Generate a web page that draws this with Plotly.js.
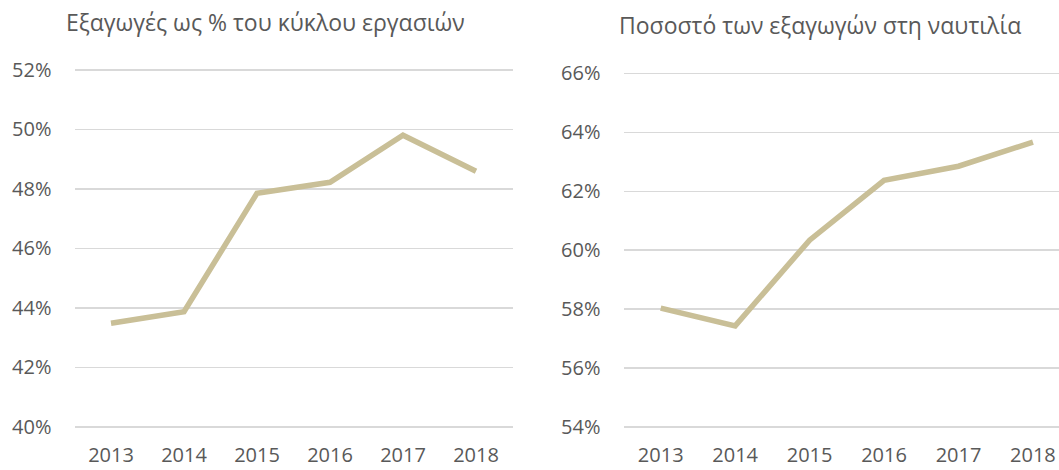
<!DOCTYPE html>
<html>
<head>
<meta charset="utf-8">
<script src="https://cdn.plot.ly/plotly-3.0.1.min.js"></script>
<style>html,body{margin:0;padding:0;background:#fff;}#chart{width:1059px;height:470px;}</style>
</head>
<body>
<div id="chart"></div>
<script>
const years = ["2013", "2014", "2015", "2016", "2017", "2018"];
const exportsShareOfTurnover = [43.48, 43.87, 47.85, 48.22, 49.80, 48.59];
const shippingShareOfExports = [58.03, 57.43, 60.34, 62.37, 62.85, 63.67];
const leftTitle = "Εξαγωγές ως % του κύκλου εργασιών";
const rightTitle = "Ποσοστό των εξαγωγών στη ναυτιλία";
const leftTicks = [40, 42, 44, 46, 48, 50, 52];
const rightTicks = [54, 56, 58, 60, 62, 64, 66];
const leftTickText = ["40%", "42%", "44%", "46%", "48%", "50%", "52%"];
const rightTickText = ["54%", "56%", "58%", "60%", "62%", "64%", "66%"];

const W = 1059, H = 470;
const lineColor = "#C9BF97";
const textColor = "#595959";
const gridColor = "#D9D9D9";
const fontFamily = "'Open Sans', 'Noto Sans', sans-serif";

const traces = [
  {x: years, y: exportsShareOfTurnover, type: "scatter", mode: "lines",
   line: {color: lineColor, width: 5.5}, xaxis: "x", yaxis: "y", hoverinfo: "skip"},
  {x: years, y: shippingShareOfExports, type: "scatter", mode: "lines",
   line: {color: lineColor, width: 5.5}, xaxis: "x2", yaxis: "y2", hoverinfo: "skip"}
];

const xCommon = {
  type: "category", showgrid: false, zeroline: false, showline: false,
  ticks: "", tickfont: {family: fontFamily, size: 20, color: textColor},
  ticklabelstandoff: 13, fixedrange: true
};
const yCommon = {
  showgrid: true, gridcolor: gridColor, gridwidth: 1.5, zeroline: false, showline: false,
  ticks: "", tickfont: {family: fontFamily, size: 20, color: textColor},
  ticklabelstandoff: 22, fixedrange: true, tickmode: "array"
};

const layout = {
  width: W, height: H,
  margin: {l: 0, r: 0, t: 0, b: 0},
  paper_bgcolor: "#fff", plot_bgcolor: "#fff",
  showlegend: false,
  xaxis: Object.assign({}, xCommon, {domain: [74.5 / W, 512.5 / W], range: [-0.5, 5.5], anchor: "y"}),
  yaxis: Object.assign({}, yCommon, {domain: [(H - 428.3) / H, (H - 68.3) / H], range: [39.95, 52.05],
    tickvals: leftTicks, ticktext: leftTickText, anchor: "x"}),
  xaxis2: Object.assign({}, xCommon, {domain: [623.5 / W, 1], range: [-0.5, 5.35], anchor: "y2"}),
  yaxis2: Object.assign({}, yCommon, {domain: [(H - 428.3) / H, (H - 72) / H], range: [53.95, 66.05],
    tickvals: rightTicks, ticktext: rightTickText, anchor: "x2"}),
  annotations: [
    {text: leftTitle, xref: "paper", yref: "paper", x: 64 / W, y: (H - 22) / H,
     xanchor: "left", yanchor: "middle", showarrow: false,
     font: {family: fontFamily, size: 23, color: textColor}},
    {text: rightTitle, xref: "paper", yref: "paper", x: 617 / W, y: (H - 25) / H,
     xanchor: "left", yanchor: "middle", showarrow: false,
     font: {family: fontFamily, size: 23, color: textColor}}
  ]
};

Plotly.newPlot("chart", traces, layout, {displayModeBar: false, staticPlot: true});
</script>
</body>
</html>
